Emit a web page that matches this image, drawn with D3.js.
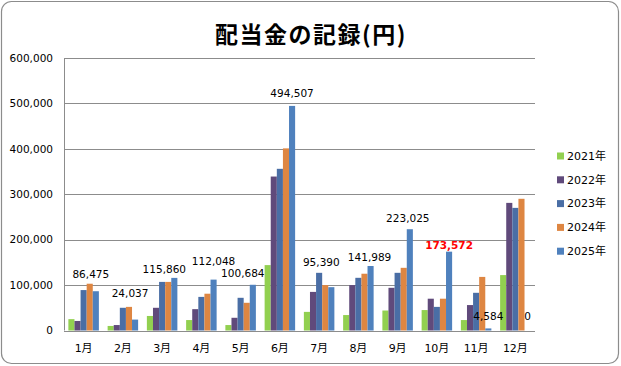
<!DOCTYPE html>
<html>
<head>
<meta charset="utf-8">
<title>配当金の記録</title>
<style>
    body { margin: 0; background: #fff; }
    svg text { font-family: "DejaVu Sans", "Noto Sans CJK JP", sans-serif; fill: #000; }
</style>
</head>
<body>
<svg width="621" height="366"></svg>
<script src="https://cdn.jsdelivr.net/npm/d3@7"></script>
<script>

var months = ["1月", "2月", "3月", "4月", "5月", "6月", "7月", "8月", "9月", "10月", "11月", "12月"];
var seriesNames = ["2021年", "2022年", "2023年", "2024年", "2025年"];

var v2021 = [25000, 10000, 32000, 23000, 12000, 144000, 41000, 34000, 44000, 45000, 23000, 122000];
var v2022 = [21000, 12000, 50000, 47000, 28000, 339000, 85000, 100000, 94000, 70000, 56000, 281000];
var v2023 = [89000, 50000, 107000, 74000, 72000, 356000, 127000, 116000, 127000, 52000, 83000, 270000];
var v2024 = [103000, 52000, 107000, 81000, 61000, 401000, 100000, 125000, 138000, 70000, 118000, 290000];
var v2025 = [86475, 24037, 115860, 112048, 100684, 494507, 95390, 141989, 223025, 173572, 4584, 0];

var yTicks = [0, 100000, 200000, 300000, 400000, 500000, 600000];

var colors = ["#92d050", "#604a7b", "#4a6ea5", "#de8642", "#4f81bd"];

// label nudges so they don't sit on the neighbouring bars
var labelShift = [[-5, -6], [-5, -15], [-10, 2], [0, -7], [-10, 0], [0, -2],
                  [-10, -14], [-1, 2], [-2, 0], [0, 5], [0, -1], [0, -3]];

var series = [v2021, v2022, v2023, v2024, v2025];

var svg = d3.select("svg");

svg.append("rect")
    .attr("x", 1.5).attr("y", 1.5)
    .attr("width", 617).attr("height", 362)
    .attr("rx", 10)
    .attr("fill", "#fff")
    .attr("stroke", "#8c8c8c")
    .attr("stroke-width", 1.2);

svg.append("text")
    .attr("x", 311).attr("y", 43)
    .attr("text-anchor", "middle")
    .style("font-family", "'Noto Sans CJK JP', sans-serif")
    .style("font-size", "23px")
    .style("font-weight", "bold")
    .style("letter-spacing", "1.5px")
    .text("配当金の記録(円)");

var plotLeft = 64, plotRight = 535, plotTop = 58, plotBottom = 330.5;

var y = d3.scaleLinear().domain([0, 600000]).range([plotBottom, plotTop]);

var x0 = d3.scaleBand().domain(months).range([plotLeft, plotRight])
    .paddingInner(0.223).paddingOuter(0.1115);

var x1 = d3.scaleBand().domain(d3.range(seriesNames.length))
    .range([0, x0.bandwidth()]);

// gridlines
svg.append("g")
    .selectAll("line")
    .data(yTicks.slice(1))
    .enter().append("line")
    .attr("x1", plotLeft).attr("x2", plotRight)
    .attr("y1", function(d) { return Math.round(y(d)) + 0.5; })
    .attr("y2", function(d) { return Math.round(y(d)) + 0.5; })
    .attr("stroke", "#8c8c8c");

// y axis labels
svg.append("g")
    .selectAll("text")
    .data(yTicks)
    .enter().append("text")
    .attr("x", 53)
    .attr("y", function(d) { return y(d); })
    .attr("dy", "0.35em")
    .attr("text-anchor", "end")
    .style("font-size", "10.5px")
    .text(d3.format(","));

// bars
var groups = svg.append("g")
    .selectAll("g")
    .data(months)
    .enter().append("g")
    .attr("transform", function(d) { return "translate(" + x0(d) + ",0)"; });

groups.selectAll("rect")
    .data(function(d, i) { return series.map(function(s, k) { return { k: k, v: s[i] }; }); })
    .enter().append("rect")
    .attr("x", function(d) { return x1(d.k); })
    .attr("y", function(d) { return y(d.v); })
    .attr("width", x1.bandwidth())
    .attr("height", function(d) { return plotBottom - y(d.v); })
    .attr("fill", function(d) { return colors[d.k]; });

// axis lines
svg.append("line")
    .attr("x1", plotLeft + 0.5).attr("x2", plotLeft + 0.5)
    .attr("y1", plotTop).attr("y2", plotBottom)
    .attr("stroke", "#8c8c8c");
svg.append("line")
    .attr("x1", plotLeft).attr("x2", plotRight)
    .attr("y1", Math.round(plotBottom) + 0.5).attr("y2", Math.round(plotBottom) + 0.5)
    .attr("stroke", "#8c8c8c");

// x labels
svg.append("g")
    .selectAll("text")
    .data(months)
    .enter().append("text")
    .attr("x", function(d) { return x0(d) + x0.bandwidth() / 2; })
    .attr("y", 348)
    .attr("dy", "0.35em")
    .attr("text-anchor", "middle")
    .style("font-size", "11px")
    .text(function(d) { return d; });

// data labels for 2025
svg.append("g")
    .selectAll("text")
    .data(months)
    .enter().append("text")
    .attr("x", function(d, i) { return x0(d) + x1(4) + x1.bandwidth() / 2 + labelShift[i][0]; })
    .attr("y", function(d, i) { return y(v2025[i]) - 11 + labelShift[i][1]; })
    .attr("dy", "0.35em")
    .attr("text-anchor", "middle")
    .style("font-size", "10.5px")
    .style("font-weight", function(d) { return d == "10月" ? "bold" : "normal"; })
    .style("fill", function(d) { return d == "10月" ? "#ff0000" : "#000"; })
    .text(function(d, i) { return d3.format(",")(v2025[i]); });

// legend
var legend = svg.append("g")
    .selectAll("g")
    .data(seriesNames)
    .enter().append("g")
    .attr("transform", function(d, i) { return "translate(557," + (156 + i * 23.8) + ")"; });

legend.append("rect")
    .attr("x", 0).attr("y", -3.5)
    .attr("width", 7).attr("height", 7)
    .attr("fill", function(d, i) { return colors[i]; });

legend.append("text")
    .attr("x", 10).attr("y", 0)
    .attr("dy", "0.35em")
    .style("font-size", "11px")
    .text(function(d) { return d; });

</script>
</body>
</html>
